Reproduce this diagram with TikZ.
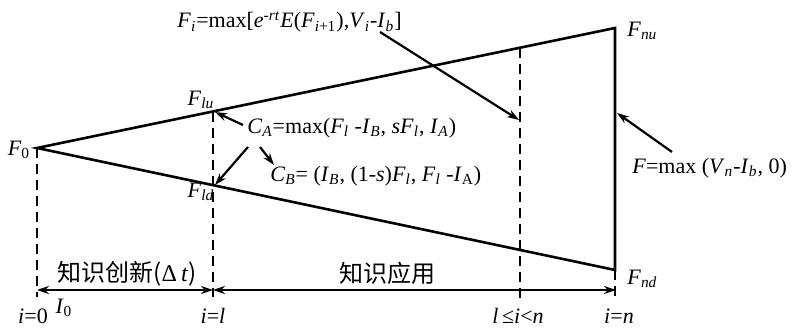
\documentclass[tikz,border=0pt]{standalone}
\usepackage{fontspec}
\setmainfont{Liberation Serif}
\newfontfamily\cjk{Noto Sans CJK SC}
\usetikzlibrary{arrows.meta, positioning}
\tikzset{
  treeline/.style={line width=1.3pt},
  gridline/.style={line width=1.2pt, dash pattern=on 5pt off 3pt}
}
\tikzset{
  notearrow/.style={line width=1.1pt, -{Stealth[length=6pt,width=4pt]}},
  spanarrow/.style={line width=1.1pt, {Stealth[length=6pt,width=4pt]}-{Stealth[length=6pt,width=4pt]}}
}
\tikzset{
  lbl/.style={font=\fontsize{11}{13}\selectfont, inner sep=0pt},
  cjklbl/.style={font=\fontsize{12}{14}\selectfont\cjk, inner sep=0pt}
}
\newcommand{\vx}[2]{\textit{#1}\textsubscript{\textit{#2}}}

\begin{document}
\begin{tikzpicture}[x=0.5pt, y=-0.5pt]
  \useasboundingbox (0,0) rectangle (794,330);
  % corners of the value tree
  \coordinate (f0) at (37,148);
  \coordinate (flu) at (213,112);
  \coordinate (fld) at (213,185);
  \coordinate (fnu) at (615,28);
  \coordinate (fnd) at (615,270);
  \coordinate (fmu) at (520,48);
  \draw[treeline] (f0) -- (fnu) -- (fnd) -- cycle;
  % stage lines
  \coordinate (b0) at (37,297);
  \coordinate (bl) at (213,297);
  \coordinate (bm) at (520,303);
  \coordinate (bn) at (615,297);
  \draw[gridline] (f0) -- (b0);
  \draw[gridline] (flu) -- (bl);
  \draw[gridline] (fmu) -- (bm);
  \draw[gridline] (fnd) -- (bn);
  % time axis
  \coordinate (a0) at (37,290);
  \coordinate (al) at (213,290);
  \coordinate (an) at (616,290);
  \draw[spanarrow] (a0) -- (al);
  \draw[spanarrow] (al) -- (an);
  \node[cjklbl] (create) at (127,274) {知识创新(\rmfamily Δ\,\textit{t}\cjk)};
  \node[cjklbl] (apply) at (387,273) {知识应用};
  % node values
  \node[lbl] (lf0) at (19,150) {\textit{F}\textsubscript{0}};
  \node[lbl] (lflu) at (201,100) {\vx{F}{lu}};
  \node[lbl] (lfld) at (201,192) {\vx{F}{ld}};
  \node[lbl, anchor=west] (lfnu) at (627,31) {\vx{F}{nu}};
  \node[lbl, anchor=west] (lfnd) at (627,279) {\vx{F}{nd}};
  % stage indices
  \node[lbl] (i0) at (33,316) {\textit{i}=0};
  \node[lbl] (izero) at (64,308) {\textit{I}\textsubscript{0}};
  \node[lbl] (il) at (213,316) {\textit{i}=\textit{l}};
  \node[lbl] (im) at (518,316) {\textit{l}\,≤\textit{i}<\textit{n}};
  \node[lbl] (in) at (619,316) {\textit{i}=\textit{n}};
  % formulas
  \node[lbl, anchor=west] (fi) at (177,22)
    {\vx{F}{i}=max[\textit{e}\textsuperscript{-\textit{rt}}\textit{E}(\textit{F}\textsubscript{\textit{i}+1}),\vx{V}{i}-\vx{I}{b}]};
  \node[lbl, anchor=west] (ca) at (247,128)
    {\vx{C}{A}=max(\vx{F}{l} -\vx{I}{B}, \textit{s}\vx{F}{l}, \vx{I}{A})};
  \node[lbl, anchor=west] (cb) at (270,176)
    {\vx{C}{B}= (\vx{I}{B}, (1-\textit{s})\vx{F}{l}, \vx{F}{l} -\textit{I}\textsubscript{A})};
  \node[lbl, anchor=west] (fn) at (632,168)
    {\textit{F}=max (\vx{V}{n}-\vx{I}{b}, 0)};
  % pointers
  \coordinate (fitail) at (380,32);
  \coordinate (fihead) at (519,120);
  \coordinate (catail) at (243,125);
  \coordinate (cadown) at (248,147);
  \coordinate (catocb) at (260,147);
  \coordinate (cbhead) at (274,165);
  \coordinate (fntail) at (672,152);
  \coordinate (fnhead) at (617,113);
  \draw[notearrow] (fitail) -- (fihead);
  \draw[notearrow] (catail) -- ([xshift=1pt]flu);
  \draw[notearrow] (cadown) -- ([xshift=1pt]fld);
  \draw[notearrow] (catocb) -- (cbhead);
  \draw[notearrow] (fntail) -- (fnhead);
\end{tikzpicture}
\end{document}
